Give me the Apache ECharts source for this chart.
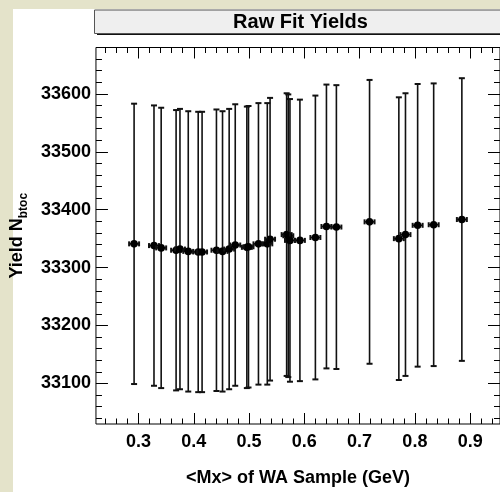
<!DOCTYPE html>
<html>
<head>
<meta charset="utf-8">
<script src="https://cdn.jsdelivr.net/npm/echarts@6/dist/echarts.min.js"></script>
<style>
  html, body { margin: 0; padding: 0; background: #e4e3ca; }
  #chart { width: 500px; height: 492px; }
</style>
</head>
<body>
<div id="chart"></div>
<script>
// Mean missing mass <Mx> of each WA sample (GeV)
const mx = [0.292, 0.328, 0.341, 0.368, 0.375, 0.390, 0.408, 0.415, 0.441, 0.452,
            0.464, 0.475, 0.496, 0.499, 0.517, 0.533, 0.538, 0.568, 0.571, 0.574,
            0.592, 0.620, 0.640, 0.658, 0.718, 0.771, 0.783, 0.805, 0.834, 0.885];
// Horizontal error on <Mx> (GeV)
const mxErr = [0.009, 0.009, 0.009, 0.009, 0.009, 0.009, 0.009, 0.009, 0.009, 0.009,
               0.009, 0.009, 0.009, 0.009, 0.009, 0.009, 0.009, 0.009, 0.009, 0.009,
               0.009, 0.009, 0.009, 0.009, 0.009, 0.009, 0.009, 0.009, 0.009, 0.009];
// Raw fitted yield N_btoc
const yieldVal = [33341, 33338, 33334, 33330, 33332, 33328, 33327, 33327, 33330, 33328,
                  33332, 33339, 33335, 33336, 33341, 33341, 33349, 33357, 33355, 33347,
                  33347, 33352, 33371, 33370, 33379, 33350, 33357, 33373, 33374, 33383];
// Fit uncertainty on the yield
const yieldErr = [242, 242, 242, 242, 242, 242, 242, 242, 243, 242,
                  242, 243, 243, 243, 243, 243, 244, 244, 244, 244,
                  243, 245, 245, 245, 245, 244, 244, 244, 244, 244];

// Axis ranges and tick labels
const xRange = [0.223, 0.954];
const yRange = [33030, 33680];
const xTickLabels = [0.3, 0.4, 0.5, 0.6, 0.7, 0.8, 0.9];
const yTickLabels = [33100, 33200, 33300, 33400, 33500, 33600];

const xMinor = [];
for (let i = 12; i <= 47; i++) xMinor.push(+(i * 0.02).toFixed(2));
const yMinor = [];
for (let v = 33040; v <= 33680; v += 20) yMinor.push(v);

const FONT = '"Liberation Sans", Arial, Helvetica, sans-serif';
const BLACK = '#000';

const points = mx.map((m, i) => [m, yieldVal[i], yieldErr[i], mxErr[i]]);

function tickAxis(kind, position, values, len, labelOpts) {
  const isX = kind === 'x';
  const range = isX ? xRange : yRange;
  const ax = {
    type: 'value',
    position: position,
    min: range[0],
    max: range[1],
    axisLine: { show: false },
    splitLine: { show: false },
    axisTick: {
      show: true, inside: true, length: len, customValues: values,
      lineStyle: { color: BLACK, width: 1 }
    },
    axisLabel: { show: false }
  };
  if (labelOpts) ax.axisLabel = Object.assign({ show: true, customValues: values }, labelOpts);
  return ax;
}

const xMain = tickAxis('x', 'bottom', xTickLabels, 11, {
  margin: 9, color: BLACK, fontFamily: FONT, fontWeight: 'bold', fontSize: 18,
  formatter: v => v.toFixed(1)
});
xMain.name = '<Mx> of WA Sample (GeV)';
xMain.nameLocation = 'middle';
xMain.nameGap = 45;
xMain.nameTextStyle = { color: BLACK, fontFamily: FONT, fontWeight: 'bold', fontSize: 18 };

const yMain = tickAxis('y', 'left', yTickLabels, 12, {
  margin: 5, color: BLACK, fontFamily: FONT, fontWeight: 'bold', fontSize: 18,
  formatter: v => String(v)
});
yMain.name = '{main|Yield N}{sub|btoc}';
yMain.nameLocation = 'middle';
yMain.nameRotate = 90;
yMain.nameGap = 54;
yMain.nameTextStyle = {
  color: BLACK, fontFamily: FONT, fontWeight: 'bold',
  rich: {
    main: { fontFamily: FONT, fontWeight: 'bold', fontSize: 18, lineHeight: 26, verticalAlign: 'middle', color: BLACK },
    sub: { fontFamily: FONT, fontWeight: 'bold', fontSize: 12, lineHeight: 26, verticalAlign: 'bottom', color: BLACK }
  }
};

const option = {
  backgroundColor: '#e4e3ca',
  animation: false,
  graphic: [
    { type: 'rect', z: -10, shape: { x: 13, y: 9, width: 487, height: 483 }, style: { fill: '#fff' } },
    // title pave with its drop shadow
    { type: 'rect', z: 1, shape: { x: 97, y: 12, width: 420, height: 23 }, style: { fill: '#111' } },
    { type: 'rect', z: 2, shape: { x: 94.5, y: 10, width: 420, height: 23.5 }, style: { fill: '#efefef', stroke: '#555', lineWidth: 1 } },
    { type: 'text', z: 3, x: 300.5, y: 22, style: {
        text: 'Raw Fit Yields', fill: BLACK, font: 'bold 20px ' + FONT,
        align: 'center', verticalAlign: 'middle'
      } }
  ],
  grid: {
    left: 95, top: 47.5, width: 411, height: 379,
    show: true, borderColor: BLACK, borderWidth: 1, backgroundColor: 'transparent'
  },
  xAxis: [
    xMain,
    tickAxis('x', 'bottom', xMinor, 5.5),
    tickAxis('x', 'top', xTickLabels, 11),
    tickAxis('x', 'top', xMinor, 5.5)
  ],
  yAxis: [
    yMain,
    tickAxis('y', 'left', yMinor, 6),
    tickAxis('y', 'right', yTickLabels, 12),
    tickAxis('y', 'right', yMinor, 6)
  ],
  series: [{
    type: 'custom',
    xAxisIndex: 0,
    yAxisIndex: 0,
    data: points,
    encode: { x: 0, y: 1 },
    z: 10,
    renderItem: function (params, api) {
      const x = api.value(0), y = api.value(1), ey = api.value(2), ex = api.value(3);
      const c = api.coord([x, y]);
      const top = api.coord([x, y + ey]);
      const bot = api.coord([x, y - ey]);
      const lft = api.coord([x - ex, y]);
      const rgt = api.coord([x + ex, y]);
      const bar = { stroke: '#111', lineWidth: 1.6 };
      const cap = { stroke: '#111', lineWidth: 2 };
      return {
        type: 'group',
        children: [
          { type: 'line', shape: { x1: c[0], y1: top[1], x2: c[0], y2: bot[1] }, style: bar },
          { type: 'line', shape: { x1: c[0] - 3, y1: top[1], x2: c[0] + 3, y2: top[1] }, style: cap },
          { type: 'line', shape: { x1: c[0] - 3, y1: bot[1], x2: c[0] + 3, y2: bot[1] }, style: cap },
          { type: 'line', shape: { x1: lft[0], y1: c[1], x2: rgt[0], y2: c[1] }, style: bar },
          { type: 'line', shape: { x1: lft[0], y1: c[1] - 2.5, x2: lft[0], y2: c[1] + 2.5 }, style: cap },
          { type: 'line', shape: { x1: rgt[0], y1: c[1] - 2.5, x2: rgt[0], y2: c[1] + 2.5 }, style: cap },
          { type: 'circle', shape: { cx: c[0], cy: c[1], r: 3.8 }, style: { fill: BLACK } }
        ]
      };
    }
  }]
};

const chart = echarts.init(document.getElementById('chart'), null, { renderer: 'canvas' });
chart.setOption(option);
</script>
</body>
</html>
